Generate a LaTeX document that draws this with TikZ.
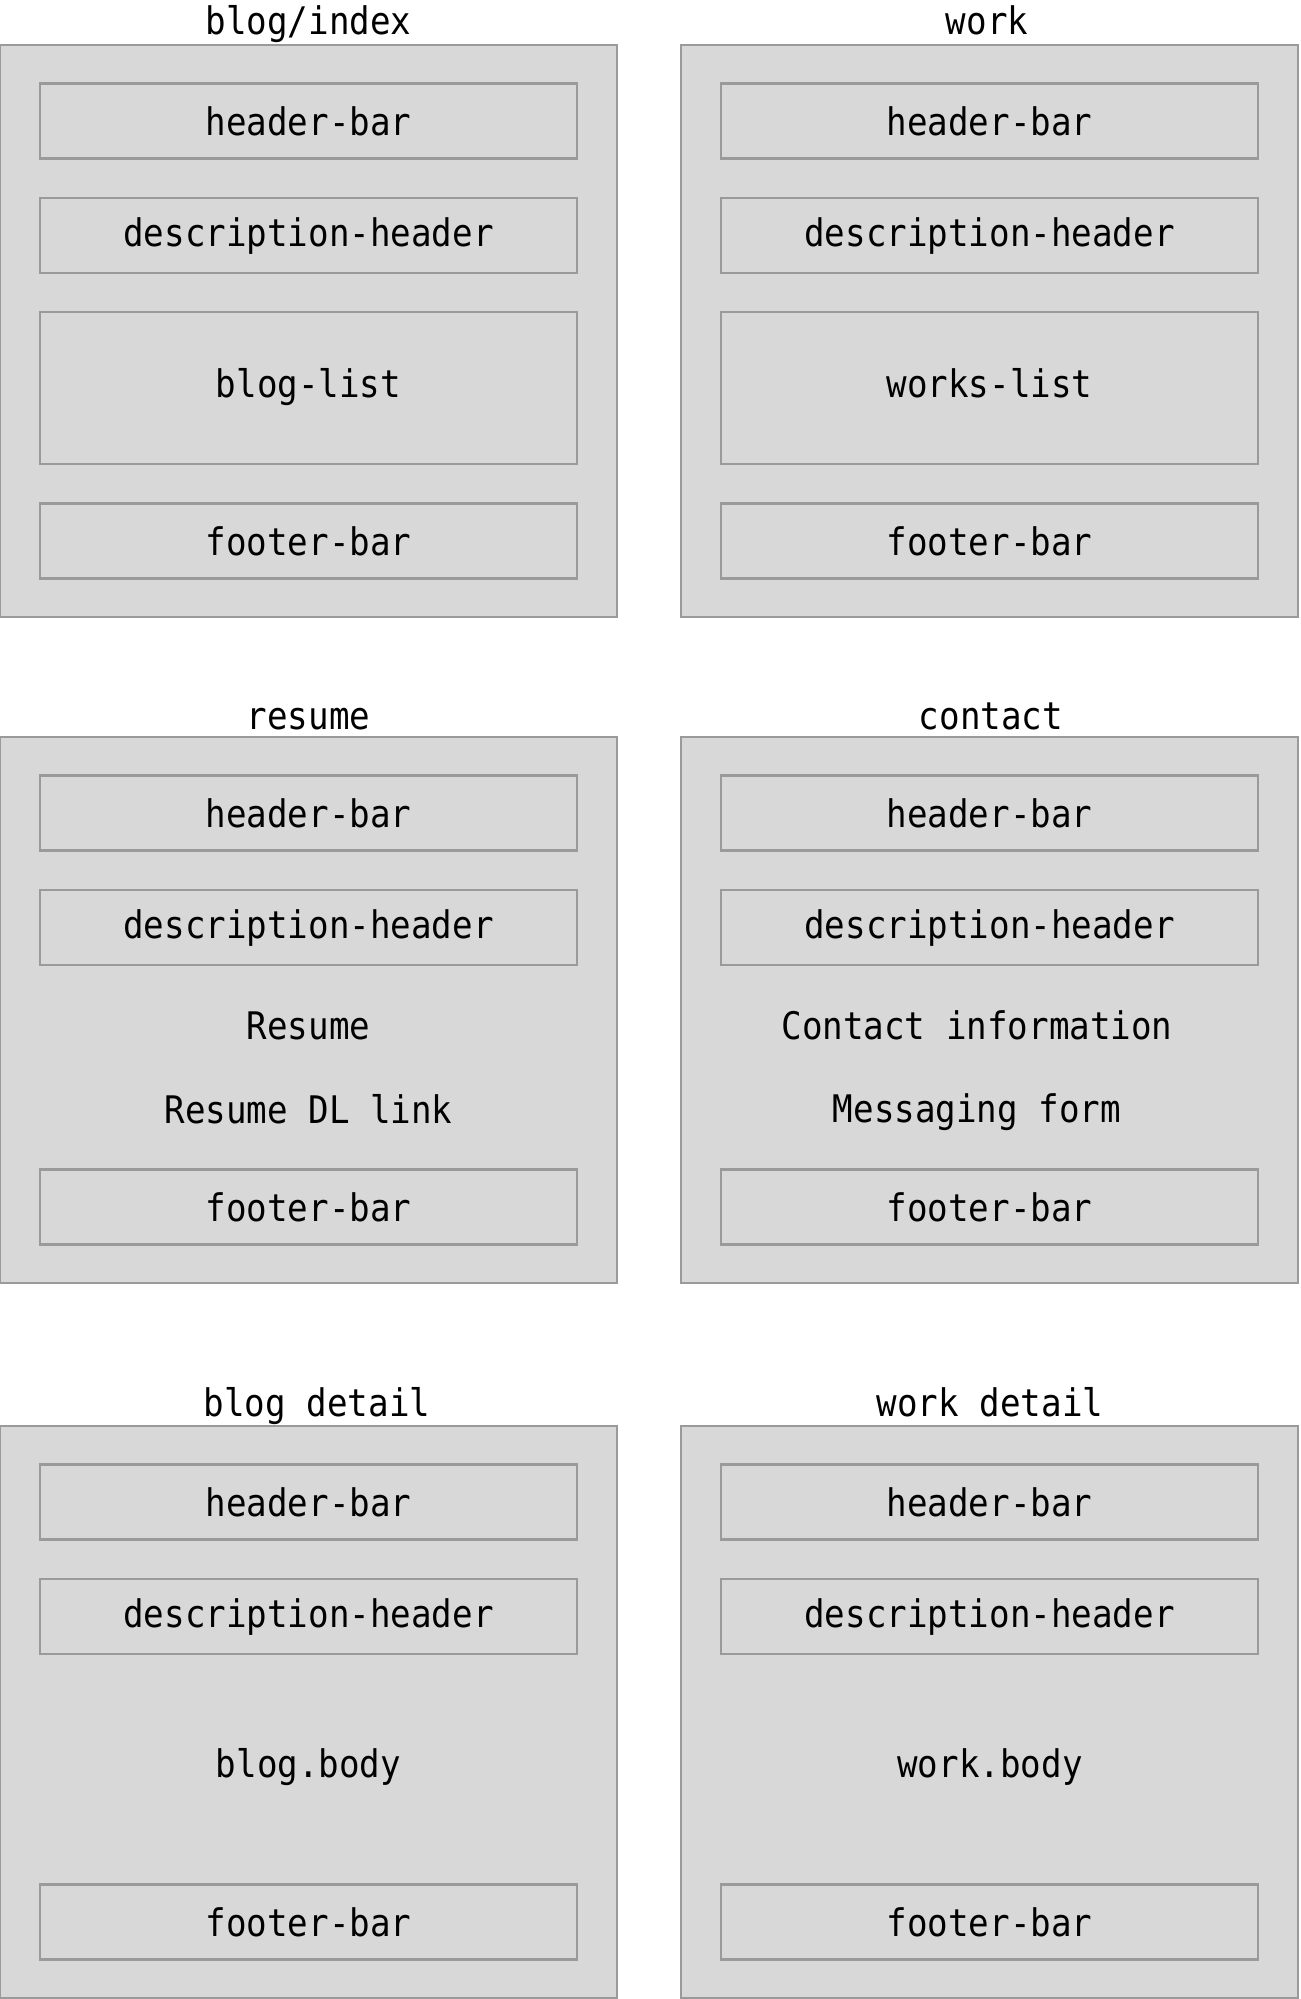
\documentclass[tikz,border=0pt]{standalone}
\usepackage{fontspec}
\setmonofont[FakeStretch=0.9]{DejaVu Sans Mono}
\definecolor{panelgray}{HTML}{D8D8D8}
\definecolor{edgegray}{HTML}{9A9A9A}
\tikzset{
  mono/.style={font=\ttfamily\fontsize{10.8}{13}\selectfont},
  page/.style={draw=edgegray, fill=panelgray, line width=0.6pt, minimum width=6.16cm, inner sep=0pt},
  part/.style={draw=edgegray, fill=panelgray, line width=0.6pt, minimum width=5.36cm,
    minimum height=0.75cm, inner sep=0pt, mono},
  descbox/.style={part, text height=0.76em, text depth=0.12em},
  listbox/.style={part, minimum height=1.515cm, text height=0.76em, text depth=0.24em},
  pagetitle/.style={anchor=base, inner sep=0pt, mono},
  plain/.style={inner sep=0pt, mono}
}
\begin{document}
\begin{tikzpicture}[x=0.01cm, y=-0.01cm]
\useasboundingbox (0,0) rectangle (1301,1999);

% Pages with the parts they all share
\foreach \r/\cy/\h/\top/\bot in {1/331/5.72/45/617, 2/1010/5.46/737/1283, 3/1712/5.72/1426/1998} {
  \foreach \c/\x in {l/308.5, r/989.5} {
    \node[page, minimum height=\h cm] (page-\c-\r) at (\x,\cy) {};
    \node[part] (hdr-\c-\r) at (\x,\top+76) {header-bar};
    \node[descbox] (desc-\c-\r) at (\x,\top+190.5) {description-header};
    \node[part] (foot-\c-\r) at (\x,\bot-76) {footer-bar};
  }
}

% Page titles
\node[pagetitle] (title-l-1) at (308.5,34.5) {blog/index};
\node[pagetitle] (title-r-1) at (987,34.5) {work};
\node[pagetitle] (title-l-2) at (308.5,729.5) {resume};
\node[pagetitle] (title-r-2) at (991,729.5) {contact};
\node[pagetitle] (title-l-3) at (317,1416.5) {blog detail};
\node[pagetitle] (title-r-3) at (990,1416.5) {work detail};

% Lists
\node[listbox] (blog-list) at (308.5,388) {blog-list};
\node[listbox] (works-list) at (989.5,388) {works-list};

% Resume and contact content
\node[plain] (resume) at (308.5,1025.5) {Resume};
\node[plain] (resume-dl) at (308.5,1109.5) {Resume DL link};
\node[plain] (contact-info) at (977,1025.5) {Contact information};
\node[plain] (msg-form) at (977,1112) {Messaging form};

% Detail bodies
\node[plain] (blog-body) at (308.5,1767) {blog.body};
\node[plain] (work-body) at (990,1767) {work.body};
\end{tikzpicture}
\end{document}
